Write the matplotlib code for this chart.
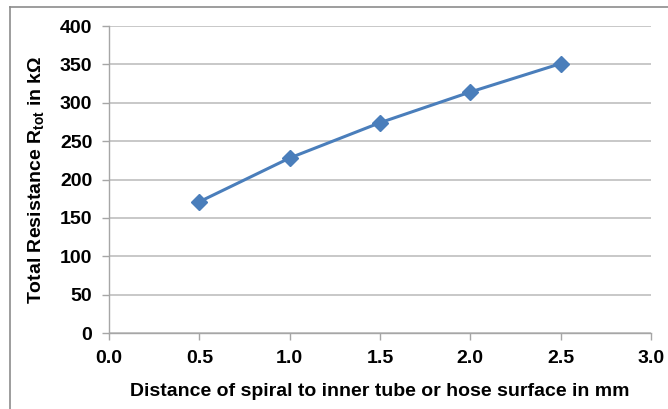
import matplotlib
matplotlib.use("Agg")
import matplotlib.pyplot as plt
from matplotlib.lines import Line2D

distance_mm = [0.5, 1.0, 1.5, 2.0, 2.5]
resistance_kohm = [171, 228, 274, 314, 351]
x_ticks = [0.0, 0.5, 1.0, 1.5, 2.0, 2.5, 3.0]
y_ticks = [0, 50, 100, 150, 200, 250, 300, 350, 400]

plt.rcParams['font.family'] = ['Liberation Sans', 'DejaVu Sans']
plt.rcParams['font.weight'] = 'bold'
plt.rcParams['mathtext.fontset'] = 'custom'
plt.rcParams['mathtext.rm'] = 'Liberation Sans:bold'
plt.rcParams['mathtext.bf'] = 'Liberation Sans:bold'

W, H = 668, 409
fig = plt.figure(figsize=(W / 100, H / 100), dpi=100)
ax = fig.add_axes([109 / W, 1 - 333 / H, 542 / W, 307 / H])

ax.plot(distance_mm, resistance_kohm, color='#4A7EBB', lw=2.2,
        marker='D', markersize=8.5, markeredgecolor='#4A7EBB', markerfacecolor='#4A7EBB', zorder=3)

ax.set_xlim(0, 3.0)
ax.set_ylim(0, 400)
ax.set_xticks(x_ticks)
ax.set_xticklabels([f"{v:.1f}" for v in x_ticks])
ax.set_yticks(y_ticks)
ax.set_yticklabels([str(v) for v in y_ticks])

ax.grid(axis='y', color='#BFBFBF', lw=1.2)
ax.set_axisbelow(True)
for s in ['top', 'right']:
    ax.spines[s].set_visible(False)
for s in ['left', 'bottom']:
    ax.spines[s].set_color('#A6A6A6')
    ax.spines[s].set_linewidth(1.0)
ax.tick_params(axis='both', colors='#A6A6A6', labelcolor='black', labelsize=14,
               length=5, width=1.0, pad=7)

ax.set_xlabel('Distance of spiral to inner tube or hose surface in mm',
              fontsize=14, fontweight='bold', labelpad=12)
ax.set_ylabel('Total Resistance R$_{\\mathbf{tot}}$ in kΩ',
              fontsize=14, fontweight='bold', labelpad=9)

# chart area border (top and left visible)
fig.add_artist(Line2D([9.5 / W, 1.01], [1 - 6.5 / H, 1 - 6.5 / H],
                      transform=fig.transFigure, color='#8C8C8C', lw=1.2))
fig.add_artist(Line2D([9.5 / W, 9.5 / W], [1 - 6.5 / H, -0.01],
                      transform=fig.transFigure, color='#8C8C8C', lw=1.2))

fig.savefig('out.png', dpi=100)
